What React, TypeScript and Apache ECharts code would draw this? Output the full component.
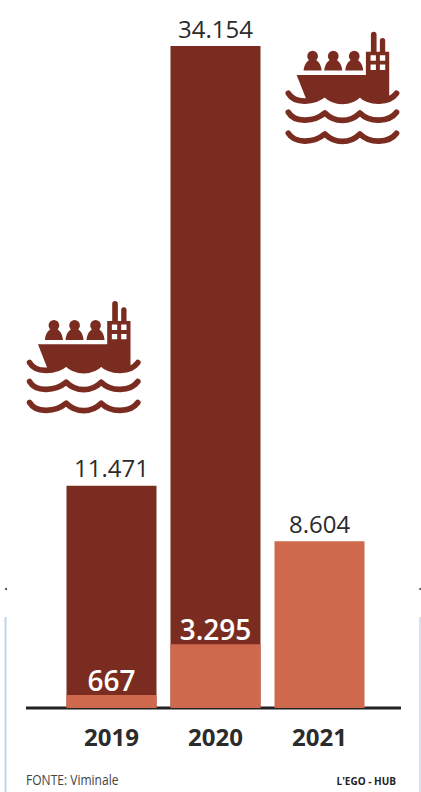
import React, { useEffect, useRef } from "react";
import * as echarts from "echarts";

const years = ["2019", "2020", "2021"];
const totalValues = [11471, 34154, null];
const lowerValues = [667, 3295, 8604];

const DARK = "#7B2C20";
const LIGHT = "#CF694E";
const INK = "#2B2B2B";
const FONT = "'Open Sans', sans-serif";

const thousands = (v: number) => String(v).replace(/\B(?=(\d{3})+$)/g, ".");

// Ship icon outlines, drawn on a 420-unit square and scaled to a third.
const hullPath =
  "M80 165 L288 165 L288 95 L303 95 L303 44 A8.5 8.5 0 0 1 320 44 L320 95 L330 95 L330 62 A8 8 0 0 1 346 62 L346 95 L358 95 L358 232 " +
  "C330 244 292 244 270 226 C245 246 190 246 165 226 C150 238 128 242 108 236 Z " +
  "M302 106 L302 122 L318 122 L318 106 Z M330 106 L330 122 L346 122 L346 106 Z " +
  "M302 134 L302 150 L318 150 L318 134 Z M330 134 L330 150 L346 150 L346 134 Z";
const personPath = (cx: number) =>
  `M${cx - 16} 108 A16 16 0 1 1 ${cx + 16} 108 C${cx + 16} 114 ${cx + 13} 118 ${cx + 11} 121 ` +
  `C${cx + 20} 126 ${cx + 26} 138 ${cx + 27} 152 L${cx - 27} 152 C${cx - 26} 138 ${cx - 20} 126 ${cx - 11} 121 ` +
  `C${cx - 13} 118 ${cx - 16} 114 ${cx - 16} 108 Z`;
const peoplePath = [128, 190, 253].map(personPath).join(" ");
const wavePath = (y: number) =>
  `M55 ${y} C72 ${y + 30} 130 ${y + 32} 165 ${y + 2} C195 ${y + 32} 240 ${y + 32} 270 ${y + 2} ` +
  `C300 ${y + 32} 358 ${y + 30} 380 ${y}`;
const wavesPath = [220, 277, 340].map(wavePath).join(" ");

echarts.graphic.registerShape("shipHull", echarts.graphic.extendPath(hullPath, {}));
echarts.graphic.registerShape("shipPeople", echarts.graphic.extendPath(peoplePath, {}));
echarts.graphic.registerShape("shipWaves", echarts.graphic.extendPath(wavesPath, {}));

const shipIcon = (x: number, y: number) => ({
  type: "group",
  x,
  y,
  scaleX: 1 / 3,
  scaleY: 1 / 3,
  children: [
    { type: "shipHull", style: { fill: DARK } },
    { type: "shipPeople", style: { fill: DARK } },
    {
      type: "shipWaves",
      style: { fill: "none", stroke: DARK, lineWidth: 17, lineCap: "round", lineJoin: "round" },
    },
  ],
});

export default function App() {
  const ref = useRef<HTMLDivElement>(null);

  useEffect(() => {
    const chart = echarts.init(ref.current!, undefined, { renderer: "svg" });
    chart.setOption({
      animation: false,
      backgroundColor: "#FFFFFF",
      grid: { left: 59.5, right: 49.5, top: 46, bottom: 84 },
      xAxis: {
        type: "category",
        data: years,
        axisLine: { show: false },
        axisTick: { show: false },
        axisLabel: {
          margin: 16,
          color: INK,
          fontFamily: FONT,
          fontWeight: 700,
          fontSize: 24,
        },
      },
      yAxis: { type: "value", min: 0, max: 34154, show: false },
      series: [
        {
          type: "bar",
          data: totalValues,
          barWidth: 90,
          barGap: "-100%",
          itemStyle: { color: DARK },
          label: {
            show: true,
            position: "top",
            distance: 6,
            color: INK,
            fontFamily: FONT,
            fontSize: 24,
            formatter: (p: any) => thousands(p.value),
          },
        },
        {
          type: "bar",
          data: lowerValues.map((value, i) => ({
            value,
            label:
              totalValues[i] === null
                ? { color: INK, fontWeight: 400, fontSize: 24, distance: 6 }
                : { color: "#FFFFFF", fontWeight: 600, fontSize: 28, distance: 1 },
          })),
          barWidth: 90,
          itemStyle: { color: LIGHT },
          label: {
            show: true,
            position: "top",
            fontFamily: FONT,
            formatter: (p: any) => thousands(p.value),
          },
        },
      ],
      graphic: [
        shipIcon(270, 20),
        shipIcon(11.3, 289.3),
        // Baseline running past the outer bars
        {
          type: "line",
          shape: { x1: 26, y1: 708, x2: 401, y2: 708 },
          style: { stroke: "#222222", lineWidth: 3 },
        },
        // Faint page rules and crop marks
        {
          type: "line",
          shape: { x1: 5.5, y1: 617, x2: 5.5, y2: 792 },
          style: { stroke: "#BCD3E8", lineWidth: 2 },
        },
        {
          type: "line",
          shape: { x1: 420, y1: 617, x2: 420, y2: 792 },
          style: { stroke: "#D5E3F0", lineWidth: 2 },
        },
        { type: "circle", shape: { cx: 6, cy: 589, r: 1 }, style: { fill: "#333333" } },
        { type: "circle", shape: { cx: 420, cy: 589, r: 1 }, style: { fill: "#555555" } },
        {
          type: "text",
          x: 26,
          y: 780,
          scaleX: 0.86,
          style: {
            text: "FONTE: Viminale",
            fill: "#444444",
            font: "14px 'Open Sans', sans-serif",
            textVerticalAlign: "middle",
          },
        },
        {
          type: "text",
          x: 396,
          y: 781,
          style: {
            text: "L'EGO - HUB",
            fill: "#222222",
            font: "700 10px 'Open Sans', sans-serif",
            textAlign: "right",
            textVerticalAlign: "middle",
          },
        },
      ],
    });
    return () => chart.dispose();
  }, []);

  return (
    <div
      ref={ref}
      style={{ position: "absolute", left: 0, top: 0, width: 421, height: 792 }}
    />
  );
}
